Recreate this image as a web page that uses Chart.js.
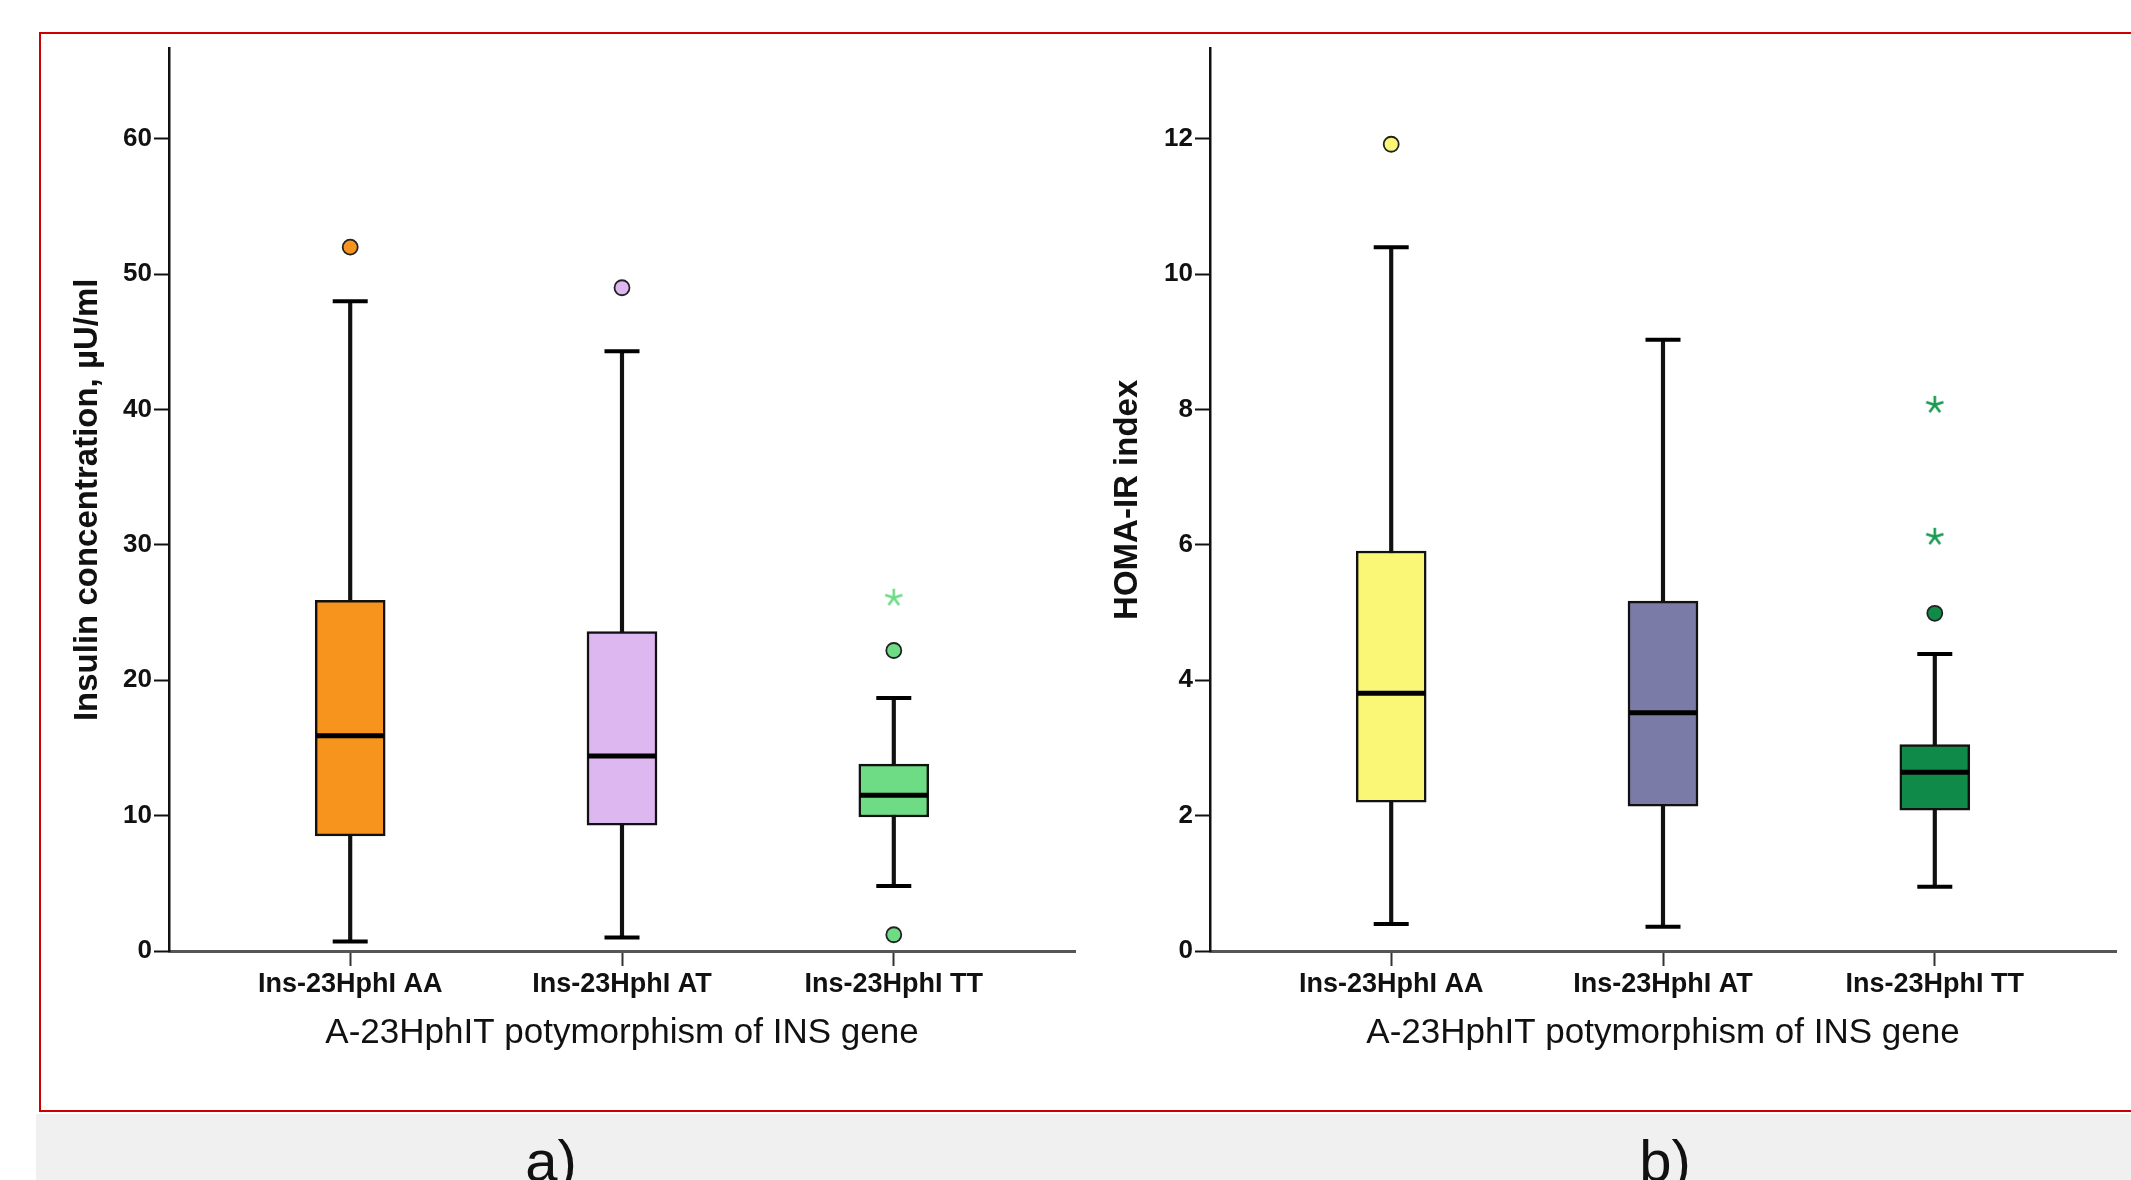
<!DOCTYPE html>
<html>
<head>
<meta charset="utf-8">
<script src="https://cdn.jsdelivr.net/npm/chart.js@4.4.1/dist/chart.umd.min.js"></script>
<style>
  body { margin: 0; width: 2131px; height: 1180px; background: #fff; position: relative; overflow: hidden;
         font-family: "Liberation Sans", Arial, sans-serif; }
  #frame { position: absolute; left: 39px; top: 32px; width: 2200px; height: 1080px;
           border: 2px solid #cc0000; box-sizing: border-box; }
  #band { position: absolute; left: 36px; top: 1114px; width: 2095px; height: 66px; background: #f0f0f0; }
  .cap { position: absolute; top: 1132px; width: 200px; margin-left: -100px; text-align: center;
         font-size: 58px; line-height: 58px; color: #111; }
  canvas { position: absolute; }
  #left { left: 40px; top: 36px; }
  #right { left: 1100px; top: 36px; }
</style>
</head>
<body>
<div id="frame"></div>
<div id="band"></div>
<div class="cap" style="left:551px">a)</div>
<div class="cap" style="left:1665px">b)</div>
<canvas id="left" width="1060" height="1070"></canvas>
<canvas id="right" width="1031" height="1070"></canvas>
<script>
const categories = ['Ins-23HphI AA', 'Ins-23HphI AT', 'Ins-23HphI TT'];
const xTitle = 'A-23HphIT potymorphism of INS gene';

// a) insulin, µU/ml
const insulinMin = [0.7, 1.0, 4.8];
const insulinQ1 = [8.5, 9.3, 9.9];
const insulinMedian = [15.9, 14.4, 11.5];
const insulinQ3 = [25.9, 23.6, 13.8];
const insulinMax = [48.0, 44.3, 18.7];
const insulinOutliers = [[52.0], [49.0], [22.2, 1.2]];
const insulinExtremes = [[], [], [26.1]];
const insulinTicks = [0, 10, 20, 30, 40, 50, 60];

// b) HOMA-IR
const homaMin = [0.40, 0.36, 0.95];
const homaQ1 = [2.20, 2.14, 2.08];
const homaMedian = [3.81, 3.52, 2.64];
const homaQ3 = [5.91, 5.17, 3.05];
const homaMax = [10.40, 9.03, 4.39];
const homaOutliers = [[11.92], [], [4.99]];
const homaExtremes = [[], [], [8.07, 6.12]];
const homaTicks = [0, 2, 4, 6, 8, 10, 12];

const insulinFills = ['#f7941d', '#ddb8f0', '#6edb85'];
const homaFills = ['#faf777', '#7b7ba8', '#108a48'];

// five-armed asterisk marker, like the SPSS "extreme" symbol
function asterisk(color) {
  const c = document.createElement('canvas');
  c.width = 22; c.height = 22;
  const g = c.getContext('2d');
  g.strokeStyle = color;
  g.lineWidth = 2.6;
  g.beginPath();
  for (let k = 0; k < 5; k++) {
    const a = -Math.PI / 2 + k * 2 * Math.PI / 5;
    g.moveTo(11, 11);
    g.lineTo(11 + Math.cos(a) * 9, 11 + Math.sin(a) * 9);
  }
  g.stroke();
  return c;
}

function boxDatasets(mins, q1, med, q3, maxs, outliers, extremes, fills, starColor) {
  const at = arr => arr.map((v, i) => ({ x: i, y: v }));
  const spread = groups => groups.flatMap((vals, i) => vals.map(v => ({ x: i, y: v })));
  return [
    { type: 'scatter', data: at(med), pointStyle: 'line', radius: 34, hoverRadius: 34,
      borderColor: '#000', borderWidth: 5, order: 1 },
    { type: 'scatter', data: spread(outliers), pointStyle: 'circle', radius: 7.5, hoverRadius: 7.5,
      backgroundColor: c => fills[c.raw ? c.raw.x : 0], borderColor: '#222', borderWidth: 1.8, order: 2 },
    { type: 'scatter', data: spread(extremes), pointStyle: asterisk(starColor), order: 2 },
    { type: 'bar', data: q1.map((v, i) => ({ x: i, y: [v, q3[i]] })), backgroundColor: fills,
      borderColor: '#111', borderWidth: 2.5, borderSkipped: false, barThickness: 70, grouped: false, order: 3 },
    { type: 'scatter', data: [...at(mins), ...at(maxs)], pointStyle: 'line', radius: 17.5, hoverRadius: 17.5,
      borderColor: '#000', borderWidth: 4, order: 4 },
    { type: 'bar', data: mins.map((v, i) => ({ x: i, y: [v, maxs[i]] })), backgroundColor: '#111',
      borderWidth: 0, barThickness: 3.5, grouped: false, order: 5 },
  ];
}

function makeChart(id, datasets, yTitle, yMax, yTicks, yWidth, titlePad, rightPad) {
  return new Chart(document.getElementById(id), {
    type: 'bar',
    data: { datasets },
    options: {
      responsive: false,
      animation: false,
      events: [],
      layout: { autoPadding: false, padding: { top: 12.6, right: rightPad, bottom: 0, left: 0 } },
      plugins: { legend: { display: false }, tooltip: { enabled: false } },
      scales: {
        x: {
          type: 'linear', min: -2 / 3, max: 8 / 3, offset: false,
          afterBuildTicks: s => { s.ticks = categories.map((_, i) => ({ value: i })); },
          afterFit: s => { s.height = 155; s.paddingLeft = 0; s.paddingRight = 0; },
          ticks: { callback: v => categories[v], autoSkip: false, maxRotation: 0, padding: 2.4,
                   color: '#111', font: { size: 27, weight: 'bold' } },
          grid: { offset: false, drawOnChartArea: false, tickLength: 15, tickWidth: 2, tickColor: '#333' },
          border: { color: '#555', width: 3 },
          title: { display: true, text: xTitle, color: '#111', font: { size: 35 }, padding: { top: 0, bottom: 52 } }
        },
        y: {
          min: 0, max: yMax,
          afterBuildTicks: s => { s.ticks = yTicks.map(v => ({ value: v })); },
          afterFit: s => { s.width = yWidth; s.paddingTop = 0; s.paddingBottom = 0; },
          ticks: { padding: 2, color: '#111', font: { size: 26, weight: 'bold' } },
          grid: { drawOnChartArea: false, tickLength: 15, tickWidth: 2, tickColor: '#111' },
          border: { color: '#111', width: 2.5 },
          title: { display: true, text: yTitle, color: '#111', font: { size: 33, weight: 'bold' },
                   padding: { top: titlePad, bottom: 0 } }
        }
      }
    }
  });
}

Chart.defaults.font.family = '"Liberation Sans", Arial, sans-serif';

makeChart('left',
  boxDatasets(insulinMin, insulinQ1, insulinMedian, insulinQ3, insulinMax, insulinOutliers, insulinExtremes,
              insulinFills, '#6edb85'),
  'Insulin concentration, µU/ml', 200 / 3, insulinTicks, 129, 28.5, 25);

makeChart('right',
  boxDatasets(homaMin, homaQ1, homaMedian, homaQ3, homaMax, homaOutliers, homaExtremes,
              homaFills, '#1a9a50'),
  'HOMA-IR index', 40 / 3, homaTicks, 110, 8.5, 15);
</script>
</body>
</html>
